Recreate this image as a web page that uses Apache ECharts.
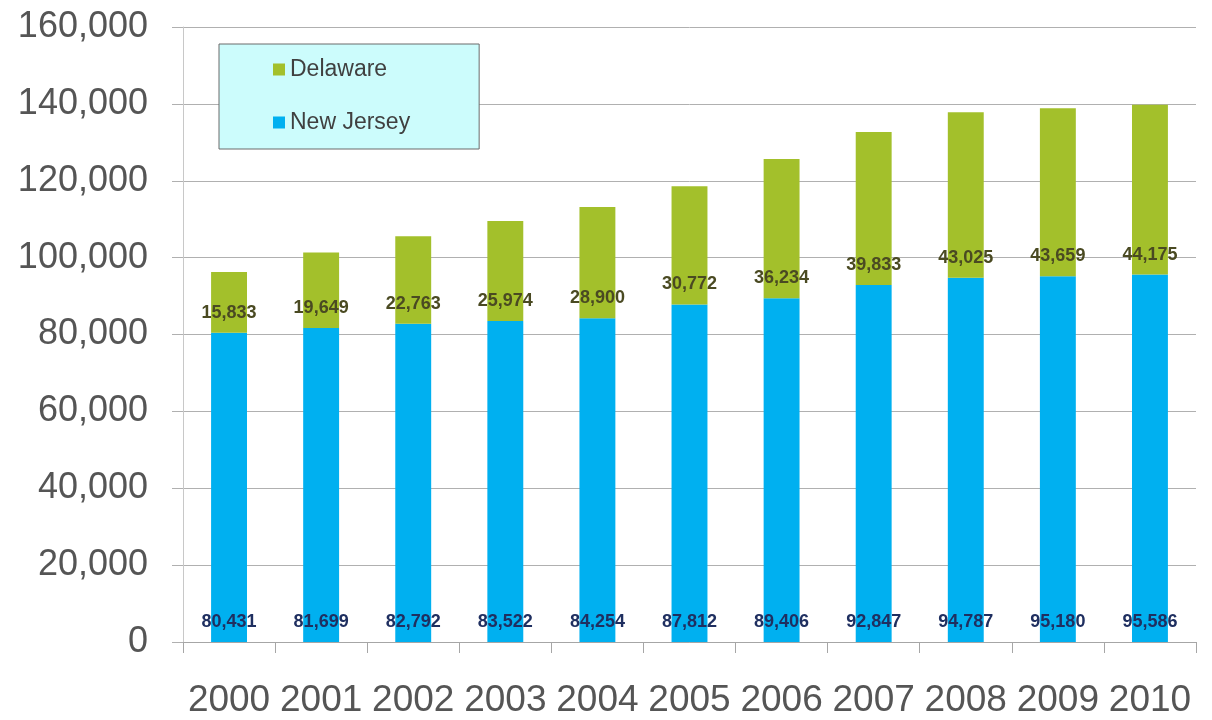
<!DOCTYPE html>
<html>
<head>
<meta charset="utf-8">
<script src="https://cdn.jsdelivr.net/npm/echarts@6/dist/echarts.min.js"></script>
<style>html,body{margin:0;padding:0;background:#fff}#c{width:1212px;height:720px}</style>
</head>
<body>
<div id="c"></div>
<script>
const years = ['2000','2001','2002','2003','2004','2005','2006','2007','2008','2009','2010'];
const newJersey = [80431,81699,82792,83522,84254,87812,89406,92847,94787,95180,95586];
const delaware = [15833,19649,22763,25974,28900,30772,36234,39833,43025,43659,44175];
const yTicks = {min:0, max:160000, interval:20000};

const fmt = v => Number(v).toLocaleString('en-US');
const chart = echarts.init(document.getElementById('c'));
chart.setOption({
  animation:false,
  backgroundColor:'#ffffff',
  textStyle:{fontFamily:'"Liberation Sans", Arial, sans-serif'},
  grid:{left:183, right:16, top:27, bottom:78, containLabel:false},
  legend:{
    orient:'vertical', left:219, top:44,
    data:['Delaware','New Jersey'],
    icon:'rect', itemWidth:12, itemHeight:12, itemGap:30,
    padding:[14,69,15,54],
    backgroundColor:'#ccfcfc', borderColor:'#6a6a6a', borderWidth:1,
    textStyle:{fontSize:23, color:'#404040', fontFamily:'"Liberation Sans", Arial, sans-serif'}
  },
  xAxis:{
    type:'category', data:years,
    axisLine:{lineStyle:{color:'#a6a6a6', width:1}},
    axisTick:{show:true, length:11, lineStyle:{color:'#a6a6a6'}},
    axisLabel:{fontSize:37, color:'#555555', margin:40, interval:0, hideOverlap:false}
  },
  yAxis:{
    type:'value', min:yTicks.min, max:yTicks.max, interval:yTicks.interval,
    axisLine:{show:true, lineStyle:{color:'#c8c8c8', width:1}},
    axisTick:{show:true, length:11, lineStyle:{color:'#b0b0b0'}},
    splitLine:{lineStyle:{color:'#b0b0b0', width:1}},
    axisLabel:{fontSize:36, color:'#555555', margin:35, formatter:fmt}
  },
  series:[
    {
      name:'New Jersey', type:'bar', stack:'t', data:newJersey, barWidth:'39%',
      itemStyle:{color:'#00b0f0'},
      label:{show:true, position:'insideBottom', distance:11, formatter:p=>fmt(p.value),
        fontSize:18, fontWeight:'bold', color:'#1f2f60'}
    },
    {
      name:'Delaware', type:'bar', stack:'t', data:delaware, barWidth:'39%',
      itemStyle:{color:'#a3c02b'},
      label:{show:true, position:'insideBottom', distance:11, formatter:p=>fmt(p.value),
        fontSize:18, fontWeight:'bold', color:'#4a4a22'}
    }
  ]
});
</script>
</body>
</html>
